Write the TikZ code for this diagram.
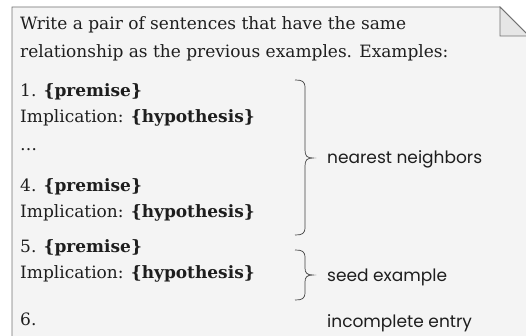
\documentclass[tikz,border=0pt]{standalone}
\usepackage{fontspec}
\setmainfont{DejaVu Serif}
\newfontfamily\labelfont{Poppins}
\definecolor{paper}{HTML}{F4F4F4}
\definecolor{foldc}{HTML}{E6E6E6}
\definecolor{edge}{HTML}{707070}
\definecolor{ink}{HTML}{1E1E1E}
\begin{document}
\begin{tikzpicture}[x=1pt,y=-1pt,
  txt/.style={anchor=base west,inner sep=0pt,text=ink,font=\fontsize{17}{20}\selectfont},
  lbl/.style={anchor=base west,inner sep=0pt,text=ink,font=\labelfont\fontsize{17}{20}\selectfont},
  bracec/.style={draw=ink!85,line width=0.7pt}]
\useasboundingbox (0,0) rectangle (526,336);
\clip (0,0) rectangle (526,336);
% paper
\path[fill=paper,draw=edge,line width=0.8pt] (12,345) -- (12,7) -- (500,7) -- (530,37) -- (530,345);
\path[fill=foldc,draw=edge,line width=0.8pt] (500,7) -- (500,36) -- (529,36) -- cycle;
% prompt text
\node[txt] (l1) at (20,30) {Write a pair of sentences that have the same};
\node[txt] (l2) at (20,58) {relationship as the previous examples. Examples:};
\node[txt] (l3) at (20,97) {1. \textbf{\{premise\}}};
\node[txt] (l4) at (20,123) {Implication: \textbf{\{hypothesis\}}};
\node[txt] (l5) at (20,151) {\ldots};
\node[txt] (l6) at (20,192) {4. \textbf{\{premise\}}};
\node[txt] (l7) at (20,218) {Implication: \textbf{\{hypothesis\}}};
\node[txt] (l8) at (20,252) {5. \textbf{\{premise\}}};
\node[txt] (l9) at (20,278) {Implication: \textbf{\{hypothesis\}}};
\node[txt] (l10) at (20,325) {6.};
% braces
\draw[bracec] (295,80) .. controls (302,80) and (305,81) .. (305,88) -- (305,150)
  .. controls (305,156) and (307,158) .. (313,158)
  .. controls (307,158) and (305,160) .. (305,166) -- (305,227)
  .. controls (305,234) and (302,235) .. (295,235);
\draw[bracec] (295,250) .. controls (302,250) and (305,251) .. (305,258) -- (305,268)
  .. controls (305,273) and (307,275) .. (313,275)
  .. controls (307,275) and (305,277) .. (305,282) -- (305,292)
  .. controls (305,299) and (302,300) .. (295,300);
% labels
\node[lbl] (nn) at (327,164) {nearest neighbors};
\node[lbl] (se) at (327,281) {seed example};
\node[lbl] (ie) at (327,327) {incomplete entry};
\end{tikzpicture}
\end{document}
